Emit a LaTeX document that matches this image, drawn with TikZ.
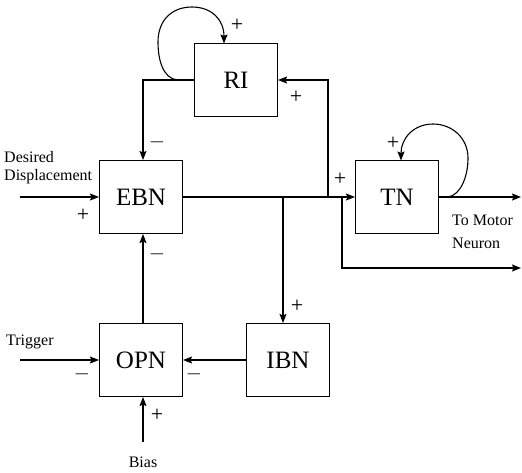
\documentclass[tikz,border=0pt]{standalone}
\usepackage{fontspec}
\setmainfont{Liberation Serif}
\usetikzlibrary{arrows.meta}
\tikzset{
  blk/.style={draw,line width=1.1pt,minimum width=83pt,minimum height=73pt,inner sep=0pt,font=\fontsize{25}{25}\selectfont},
  sgn/.style={inner sep=0pt,font=\fontsize{22}{22}\selectfont},
  lbl/.style={inner sep=0pt,anchor=west,font=\fontsize{16}{16}\selectfont},
  wire/.style={line width=1.1pt},
  arr/.style={wire,-{Stealth[length=9pt,width=7pt,inset=1.5pt]}}
}
\begin{document}
\begin{tikzpicture}[x=1pt,y=-1pt]
\useasboundingbox (0,0) rectangle (522,472);
\node[blk] (RI) at (236,80) {RI};
\node[blk] (EBN) at (141,197) {EBN};
\node[blk] (TN) at (397,197) {TN};
\node[blk] (OPN) at (141,360) {OPN};
\node[blk] (IBN) at (288,360) {IBN};

\coordinate (dd) at (20,197);
\coordinate (trig) at (20,360);
\coordinate (bias) at (143,442);
\coordinate (out1) at (521,197);
\coordinate (out2) at (521,268);
\coordinate (b1) at (283,197);
\coordinate (b2) at (328,197);
\coordinate (b3) at (342,197);
\coordinate (ri1) at (143,80);
\coordinate (ri2) at (177,80);
\coordinate (tn1) at (448,197);

\draw[arr] (RI.west) -- (ri1) -- (ri1 |- EBN.north);
\draw[arr] (ri2) .. controls (163,78) and (158,60) .. (158,42)
  .. controls (158,20) and (172,7) .. (192,7)
  .. controls (212,7) and (224,20) .. (224,43.5);
\draw[arr] (dd) -- (EBN.west);
\draw[arr] (EBN.east) -- (TN.west);
\draw[arr] (b1) -- (b1 |- IBN.north);
\draw[arr] (b2) -- (b2 |- RI.east) -- (RI.east);
\draw[arr] (b3) -- (b3 |- out2) -- (out2);
\draw[arr] (TN.east) -- (out1);
\draw[arr] (tn1) .. controls (461,195) and (468,176) .. (468,158)
  .. controls (468,138) and (452,124) .. (433,124)
  .. controls (414,124) and (401,138) .. (401,160.5);
\draw[arr] (OPN.north -| ri1) -- (EBN.south -| ri1);
\draw[arr] (trig) -- (OPN.west);
\draw[arr] (IBN.west) -- (OPN.east);
\draw[arr] (bias) -- (bias |- OPN.south);

\node[sgn] (p1) at (237,25) {+};
\node[sgn] (p2) at (296,97) {+};
\node[sgn] (m1) at (157,142) {$-$};
\node[sgn] (p3) at (83,215) {+};
\node[sgn] (m2) at (157,254) {$-$};
\node[sgn] (p4) at (340,179) {+};
\node[sgn] (p5) at (393,143) {+};
\node[sgn] (p6) at (297,306) {+};
\node[sgn] (m3) at (82,374) {$-$};
\node[sgn] (m4) at (194,374) {$-$};
\node[sgn] (p7) at (157,415) {+};

\node[lbl] (des) at (4,157) {Desired};
\node[lbl] (disp) at (4,177) {Displacement};
\node[lbl] (trg) at (6,342) {Trigger};
\node[lbl,anchor=center] (bs) at (143,462) {Bias};
\node[lbl] (tm) at (452,220) {To Motor};
\node[lbl] (neu) at (452,243) {Neuron};
\end{tikzpicture}
\end{document}
